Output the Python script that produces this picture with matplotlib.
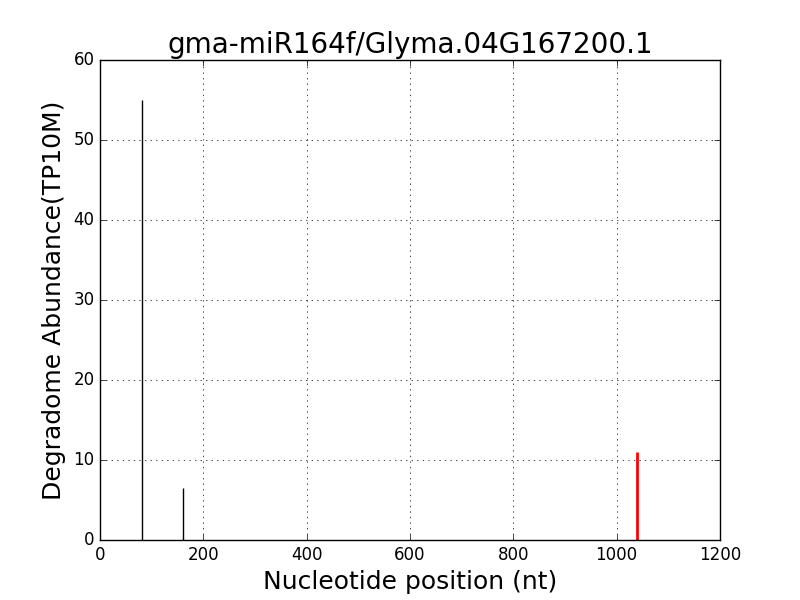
import matplotlib
matplotlib.use("Agg")
import matplotlib.pyplot as plt

# degradome tags (black) and the miRNA cleavage site (red)
tag_pos = [82, 161]
tag_abund = [55, 6.5]
site_pos = [1039]
site_abund = [11]

plt.style.use("classic")
fig = plt.figure(figsize=(8, 6), dpi=100)
ax = fig.add_subplot(111)

ax.vlines(tag_pos, 0, tag_abund, colors="black", linewidth=1)
ax.vlines(site_pos, 0, site_abund, colors="red", linewidth=2)

ax.set_xlim(0, 1200)
ax.set_ylim(0, 60)
ax.grid(True)
ax.set_title("gma-miR164f/Glyma.04G167200.1", fontsize=20)
ax.set_xlabel("Nucleotide position (nt)", fontsize=18)
ax.set_ylabel("Degradome Abundance(TP10M)", fontsize=18)

fig.savefig("out.png", dpi=100)
